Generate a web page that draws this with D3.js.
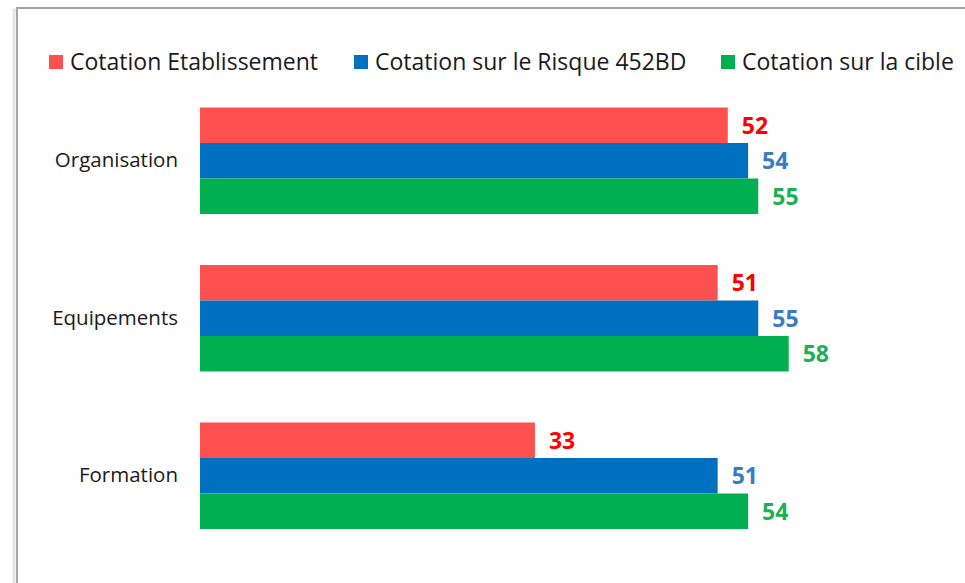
<!DOCTYPE html>
<html>
<head>
<meta charset="utf-8">
<script src="https://cdn.jsdelivr.net/npm/d3@7"></script>
<style>
  html, body { margin: 0; padding: 0; background: #fff; }
  svg { display: block; font-family: "Open Sans", "Noto Sans", sans-serif; }
</style>
</head>
<body>
<div id="chart"></div>
<script>
// Data
const categories = ["Organisation", "Equipements", "Formation"];
const seriesNames = ["Cotation Etablissement", "Cotation sur le Risque 452BD", "Cotation sur la cible"];
const etablissement = [52, 51, 33];
const risque = [54, 55, 51];
const cible = [55, 58, 54];

const WIDTH = 965;
const HEIGHT = 583;
const barColors = ["#FF5050", "#0070C0", "#00B050"];
const labelColors = ["#FF0000", "#3A7CC4", "#1FAF55"];

const allSeries = [etablissement, risque, cible];

const svg = d3.select("#chart")
  .append("svg")
  .attr("width", WIDTH)
  .attr("height", HEIGHT);

// Frame (chart area border, runs off right/bottom)
svg.append("rect")
  .attr("x", 14).attr("y", 10)
  .attr("width", 1000).attr("height", 700)
  .attr("fill", "none")
  .attr("stroke", "#e4e4e4")
  .attr("stroke-width", 3);
svg.append("rect")
  .attr("x", 17).attr("y", 8)
  .attr("width", 1000).attr("height", 700)
  .attr("fill", "#fff")
  .attr("stroke", "#a6a6a6")
  .attr("stroke-width", 2);

// Scales
const x = d3.scaleLinear()
  .domain([0, 60])
  .range([200, 809]);

const y0 = d3.scaleBand()
  .domain(categories)
  .range([82, 554.5])
  .paddingInner(0.324)
  .paddingOuter(0.162);

const y1 = d3.scaleBand()
  .domain(d3.range(seriesNames.length))
  .range([0, y0.bandwidth()]);

// Category axis (labels only)
const yAxis = d3.axisLeft(y0).tickSize(0).tickPadding(22);
svg.append("g")
  .attr("transform", `translate(${x(0)},0)`)
  .call(yAxis)
  .call(g => g.select(".domain").remove())
  .call(g => g.selectAll("text")
    .attr("font-family", "\"Open Sans\", sans-serif")
    .attr("font-size", 20.5)
    .attr("fill", "#1a1a1a"));

// Bars
const groups = svg.append("g")
  .selectAll("g")
  .data(categories)
  .join("g")
  .attr("transform", d => `translate(0,${y0(d)})`);

groups.selectAll("rect")
  .data((d, i) => allSeries.map((s, j) => ({ s: j, v: s[i] })))
  .join("rect")
  .attr("x", x(0))
  .attr("y", d => y1(d.s))
  .attr("width", d => x(d.v) - x(0))
  .attr("height", y1.bandwidth())
  .attr("fill", d => barColors[d.s]);

// Value labels
groups.selectAll("text")
  .data((d, i) => allSeries.map((s, j) => ({ s: j, v: s[i] })))
  .join("text")
  .attr("x", d => x(d.v) + 14)
  .attr("y", d => y1(d.s) + y1.bandwidth() / 2)
  .attr("dy", "0.36em")
  .attr("font-size", 23)
  .attr("font-weight", "bold")
  .attr("fill", d => labelColors[d.s])
  .text(d => d.v);

// Legend
const legendX = [49, 354, 721];
const legend = svg.append("g")
  .selectAll("g")
  .data(seriesNames)
  .join("g")
  .attr("transform", (d, i) => `translate(${legendX[i]},55)`);

legend.append("rect")
  .attr("width", 14).attr("height", 14)
  .attr("fill", (d, i) => barColors[i]);

legend.append("text")
  .attr("x", 21)
  .attr("y", 14.5)
  .attr("font-size", 23)
  .attr("fill", "#1a1a1a")
  .text(d => d);
</script>
</body>
</html>
